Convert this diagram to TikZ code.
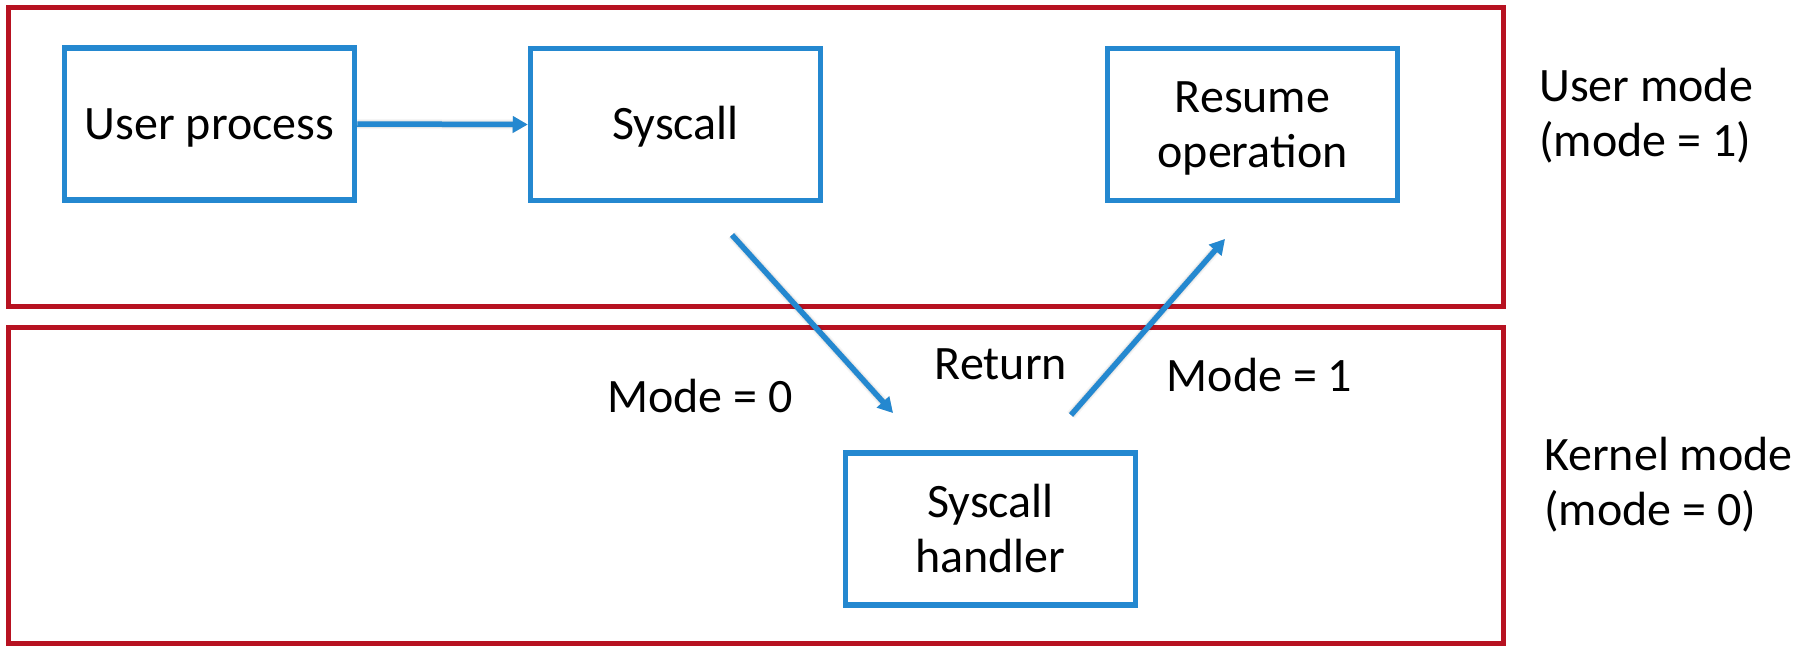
\documentclass[tikz,border=0pt]{standalone}
\usepackage{fontspec}
\setmainfont{Carlito}
\usetikzlibrary{arrows.meta}
\definecolor{zonered}{RGB}{183,18,33}
\definecolor{flowblue}{RGB}{36,136,208}
% strut that fixes every line's height and depth
\newcommand\tstrut{\rule[-6pt]{0pt}{44pt}}
\begin{document}
\begin{tikzpicture}[x=1pt,y=-1pt,
  every node/.style={font=\fontsize{48}{55}\selectfont},
  zone/.style={draw=zonered, line width=5pt, inner sep=0pt},
  stepbox/.style={draw=flowblue, line width=5.5pt, minimum width=290pt,
    minimum height=152pt, align=center, inner sep=0pt},
  tip/.style={-{Triangle[length=15pt,width=16pt]}},
  flow/.style={draw=flowblue, line width=5.5pt, tip},
  softshade/.style={draw=black, tip, shift={(1.5,3.5)}},
  lbl/.style={inner sep=0pt, anchor=base},
  side/.style={inner sep=0pt, anchor=west, align=left}]
\useasboundingbox (0,0) rectangle (1801,645);

% privilege zones
\node[zone, minimum width=1495pt, minimum height=299pt] (userzone) at (755.5,156.5) {};
\node[zone, minimum width=1495pt, minimum height=316pt] (kernelzone) at (755.5,485) {};

% steps
\node[stepbox] (proc) at (209.5,124) {\tstrut User process};
\node[stepbox] (sys) at (675.5,124.5) {\tstrut Syscall};
\node[stepbox] (resume) at (1252.5,124.5) {\tstrut Resume\\\tstrut operation};
\node[stepbox] (handler) at (990.5,529) {\tstrut Syscall\\\tstrut handler};

% transition labels
\node[lbl] (m0) at (700,412) {Mode = 0};
\node[lbl] (ret) at (1001,379) {Return};
\node[lbl] (m1) at (1259.5,391) {Mode = 1};

% zone captions
\node[side] (umode) at (1539,113.5) {\tstrut User mode\\\tstrut (mode = 1)};
\node[side] (kmode) at (1544,482.5) {\tstrut Kernel mode\\\tstrut (mode = 0)};

% free ends of the mode-switch arrows
\coordinate (trapfrom) at (732,235);
\coordinate (trapto) at (893,413);
\coordinate (retfrom) at (1071,415);
\coordinate (retto) at (1225,239);

% soft drop shadow under the connectors
\foreach \w/\o in {10/0.04, 7.5/0.06, 5.5/0.08}{
  \draw[softshade, line width=\w pt, opacity=\o] (proc.east) -- (sys.west);
  \draw[softshade, line width=\w pt, opacity=\o] (trapfrom) -- (trapto);
  \draw[softshade, line width=\w pt, opacity=\o] (retfrom) -- (retto);
}

% connectors
\draw[flow] (proc.east) -- (sys.west);
\draw[flow] (trapfrom) -- (trapto);
\draw[flow] (retfrom) -- (retto);
\end{tikzpicture}
\end{document}
